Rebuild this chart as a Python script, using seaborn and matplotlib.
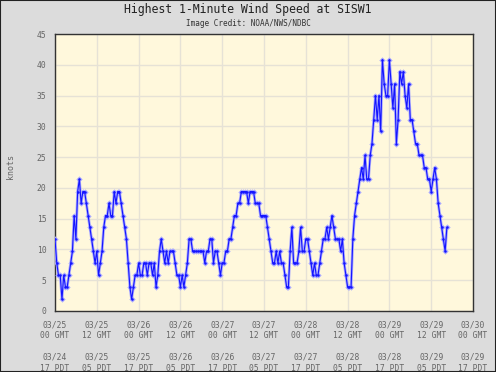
import numpy as np
import pandas as pd
import seaborn as sb
import matplotlib.pyplot as plt
from matplotlib.ticker import MultipleLocator
from matplotlib.patches import Rectangle

# highest 1-minute wind speed (knots), one reading every half hour from 03/25 00 GMT
speed_knots = [
    11.7, 7.8, 5.8, 5.8, 1.9, 5.8, 3.9, 3.9, 5.8, 7.8,
    9.7, 15.5, 11.7, 19.4, 21.4, 17.5, 19.4, 19.4, 17.5, 15.5,
    13.6, 11.7, 9.7, 7.8, 9.7, 5.8, 7.8, 9.7, 13.6, 15.5,
    15.5, 17.5, 15.5, 15.5, 19.4, 17.5, 19.4, 19.4, 17.5, 15.5,
    13.6, 11.7, 7.8, 3.9, 1.9, 3.9, 5.8, 5.8, 7.8, 5.8,
    5.8, 7.8, 7.8, 5.8, 7.8, 7.8, 5.8, 7.8, 3.9, 5.8,
    9.7, 11.7, 9.7, 7.8, 9.7, 7.8, 9.7, 9.7, 9.7, 7.8,
    5.8, 5.8, 3.9, 5.8, 3.9, 5.8, 7.8, 11.7, 11.7, 9.7,
    9.7, 9.7, 9.7, 9.7, 9.7, 9.7, 7.8, 9.7, 9.7, 11.7,
    11.7, 7.8, 9.7, 9.7, 7.8, 5.8, 7.8, 7.8, 9.7, 9.7,
    11.7, 11.7, 13.6, 15.5, 15.5, 17.5, 17.5, 19.4, 19.4, 19.4,
    19.4, 17.5, 19.4, 19.4, 19.4, 17.5, 17.5, 17.5, 15.5, 15.5,
    15.5, 15.5, 13.6, 11.7, 9.7, 7.8, 7.8, 9.7, 7.8, 9.7,
    7.8, 7.8, 5.8, 3.9, 3.9, 9.7, 13.6, 7.8, 7.8, 7.8,
    9.7, 13.6, 9.7, 9.7, 11.7, 11.7, 9.7, 7.8, 5.8, 7.8,
    5.8, 5.8, 7.8, 9.7, 11.7, 11.7, 13.6, 11.7, 13.6, 15.5,
    13.6, 11.7, 11.7, 11.7, 9.7, 11.7, 7.8, 5.8, 3.9, 3.9,
    3.9, 11.7, 15.5, 17.5, 19.4, 21.4, 23.3, 21.4, 25.3, 21.4,
    21.4, 25.3, 27.2, 31.1, 35.0, 31.1, 35.0, 29.2, 40.8, 36.9,
    35.0, 35.0, 40.8, 36.9, 33.0, 36.9, 27.2, 31.1, 38.9, 36.9,
    38.9, 35.0, 33.0, 36.9, 31.1, 31.1, 29.2, 27.2, 27.2, 25.3,
    25.3, 25.3, 23.3, 23.3, 21.4, 21.4, 19.4, 21.4, 23.3, 21.4,
    17.5, 15.5, 13.6, 11.7, 9.7, 13.6,
]
step_hours = 0.5

gmt_labels = ["03/25\n00 GMT", "03/25\n12 GMT", "03/26\n00 GMT", "03/26\n12 GMT",
              "03/27\n00 GMT", "03/27\n12 GMT", "03/28\n00 GMT", "03/28\n12 GMT",
              "03/29\n00 GMT", "03/29\n12 GMT", "03/30\n00 GMT"]
pdt_labels = ["03/24\n17 PDT", "03/25\n05 PDT", "03/25\n17 PDT", "03/26\n05 PDT",
              "03/26\n17 PDT", "03/27\n05 PDT", "03/27\n17 PDT", "03/28\n05 PDT",
              "03/28\n17 PDT", "03/29\n05 PDT", "03/29\n17 PDT"]
y_ticks = [0, 5, 10, 15, 20, 25, 30, 35, 40, 45]

df = pd.DataFrame({'Hours': np.arange(len(speed_knots)) * step_hours,
                   'Knots': speed_knots})

sb.set_style("white")
plt.rcParams['font.family'] = ['DejaVu Sans Mono']

fig = plt.figure(figsize=(4.96, 3.72), dpi=100, facecolor='#dcdcdc')
ax = fig.add_axes([55 / 496, 61 / 372, 418 / 496, 277 / 372])
ax.set_facecolor('#fff8dc')

# light wide trace with markers, then a thin dark trace on top
sb.lineplot(data=df, x='Hours', y='Knots', ax=ax, color='#a8a8ff', linewidth=2.0,
            marker='D', markersize=3.2, markeredgewidth=0, zorder=3)
sb.lineplot(data=df, x='Hours', y='Knots', ax=ax, color='#1414ff', linewidth=0.8,
            marker='o', markersize=1.8, markeredgewidth=0, zorder=4)

ax.set_xlim(0, 120)
ax.set_ylim(0, 45)
ax.set_xticks(np.arange(0, 121, 12))
ax.set_xticklabels([f"{g}\n\n{p}" for g, p in zip(gmt_labels, pdt_labels)],
                   linespacing=1.25)
ax.set_yticks(y_ticks)
ax.set_yticklabels([str(v) for v in y_ticks])
ax.xaxis.set_minor_locator(MultipleLocator(3))
ax.yaxis.set_minor_locator(MultipleLocator(1))
ax.tick_params(axis='both', which='both', direction='in', colors='#333333',
               labelcolor='#666666', labelsize=5.8)
ax.tick_params(axis='both', which='major', length=0)
ax.tick_params(axis='both', which='minor', length=3, width=0.7)
ax.tick_params(axis='x', which='major', pad=7)
ax.tick_params(axis='y', which='major', pad=6)
ax.grid(True, which='major', color='#e6e2d6', linewidth=1.0)
ax.set_axisbelow(True)
for s in ax.spines.values():
    s.set_color('#333333')
    s.set_linewidth(1.0)

ax.set_xlabel('')
ax.set_ylabel('knots', fontsize=6, color='#666666', labelpad=14)
ax.yaxis.set_label_coords(-0.095, 0.52)

fig.text(0.5, 1 - 10 / 372, 'Highest 1-Minute Wind Speed at SISW1',
         ha='center', va='center', fontsize=8.3, color='#222222')
fig.text(0.5, 1 - 24 / 372, 'Image Credit: NOAA/NWS/NDBC',
         ha='center', va='center', fontsize=5.5, color='#333333')

fig.patches.append(Rectangle((0, 0), 1, 1, transform=fig.transFigure, fill=False,
                             edgecolor='#222222', linewidth=1.5))

plt.savefig('out.png', dpi=100, facecolor=fig.get_facecolor())
plt.close()
